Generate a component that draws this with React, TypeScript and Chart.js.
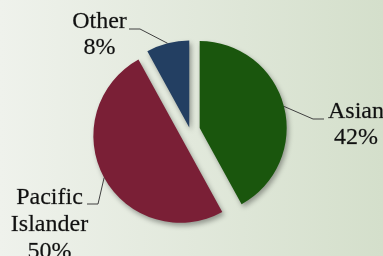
import { useEffect, useRef } from "react";
import { Chart, registerables } from "chart.js";

Chart.register(...registerables);

const categories = ["Asian", "Pacific Islander", "Other"];
const labelLines = [["Asian"], ["Pacific", "Islander"], ["Other"]];
const values = [42, 50, 8];
const colors = ["#1a560d", "#7a1f36", "#233f62"];
const explode = [10, 11, 3];

const FONT = '24px "Liberation Serif"';

// label layout: text centre x, first baseline y, line height, elbow point, outer line start x
const labelLayout = [
  { cx: 356, by: 118, lh: 25.5, ex: 313, ey: 119, sx: 324 },
  { cx: 49.5, by: 204, lh: 27, ex: 98, ey: 204, sx: 87 },
  { cx: 99.5, by: 28, lh: 25.5, ex: 140, ey: 29, sx: 129 },
];

const bgPlugin = {
  id: "bg",
  beforeDraw(chart: any) {
    const { ctx, width, height } = chart;
    const g = ctx.createLinearGradient(0, 0, width, 0);
    g.addColorStop(0, "#eff2ec");
    g.addColorStop(1, "#d4dfcb");
    ctx.save();
    ctx.fillStyle = g;
    ctx.fillRect(0, 0, width, height);
    ctx.restore();
  },
};

const explodePlugin = {
  id: "explode",
  afterUpdate(chart: any) {
    const meta = chart.getDatasetMeta(0);
    const ca = chart.chartArea;
    const cx = (ca.left + ca.right) / 2;
    const cy = (ca.top + ca.bottom) / 2;
    meta.data.forEach((arc: any, i: number) => {
      const mid = (arc.startAngle + arc.endAngle) / 2;
      arc.x = cx + Math.cos(mid) * explode[i];
      arc.y = cy + Math.sin(mid) * explode[i];
    });
  },
};

const shadowPlugin = {
  id: "shadow",
  beforeDatasetsDraw(chart: any) {
    const ctx = chart.ctx;
    ctx.save();
    ctx.shadowColor = "rgba(0,0,0,0.35)";
    ctx.shadowBlur = 5;
    ctx.shadowOffsetX = 2;
    ctx.shadowOffsetY = 3;
  },
  afterDatasetsDraw(chart: any) {
    chart.ctx.restore();
  },
};

const labelPlugin = {
  id: "pieLabels",
  afterDraw(chart: any) {
    const ctx = chart.ctx;
    const meta = chart.getDatasetMeta(0);
    const total = values.reduce((a, b) => a + b, 0);
    ctx.save();
    meta.data.forEach((arc: any, i: number) => {
      const L = labelLayout[i];
      const mid = (arc.startAngle + arc.endAngle) / 2;
      const px = arc.x + Math.cos(mid) * arc.outerRadius;
      const py = arc.y + Math.sin(mid) * arc.outerRadius;
      ctx.strokeStyle = "#404040";
      ctx.lineWidth = 1;
      ctx.beginPath();
      ctx.moveTo(L.sx, L.ey);
      ctx.lineTo(L.ex, L.ey);
      ctx.lineTo(px, py);
      ctx.stroke();
      ctx.fillStyle = "#111";
      ctx.strokeStyle = "rgba(17,17,17,0.5)";
      ctx.lineWidth = 0.4;
      ctx.font = FONT;
      ctx.textAlign = "center";
      ctx.textBaseline = "alphabetic";
      const lines = [...labelLines[i], Math.round((values[i] / total) * 100) + "%"];
      lines.forEach((t, k) => {
        ctx.fillText(t, L.cx, L.by + k * L.lh);
        ctx.strokeText(t, L.cx, L.by + k * L.lh);
      });
    });
    ctx.restore();
  },
};

export default function App() {
  const ref = useRef<HTMLCanvasElement>(null);
  useEffect(() => {
    if (!ref.current) return;
    const chart = new Chart(ref.current, {
      type: "pie",
      data: {
        labels: categories,
        datasets: [
          {
            data: values,
            backgroundColor: colors,
            borderWidth: 0,
            radius: 87,
          } as any,
        ],
      },
      options: {
        animation: false,
        responsive: false,
        layout: { padding: { left: 0, right: 3, top: 5, bottom: 0 } },
        plugins: { legend: { display: false }, tooltip: { enabled: false } },
      },
      plugins: [bgPlugin, explodePlugin, shadowPlugin, labelPlugin],
    });
    let alive = true;
    if ((document as any).fonts && (document as any).fonts.load) {
      (document as any).fonts.load(FONT, "Asian").then(() => {
        if (alive) chart.draw();
      });
    }
    return () => {
      alive = false;
      chart.destroy();
    };
  }, []);
  return (
    <div style={{ position: "fixed", left: 0, top: 0, width: 383, height: 256 }}>
      <canvas ref={ref} width={383} height={256} />
      <span style={{ position: "absolute", left: -9999, fontFamily: "Liberation Serif" }}>Asian</span>
    </div>
  );
}
